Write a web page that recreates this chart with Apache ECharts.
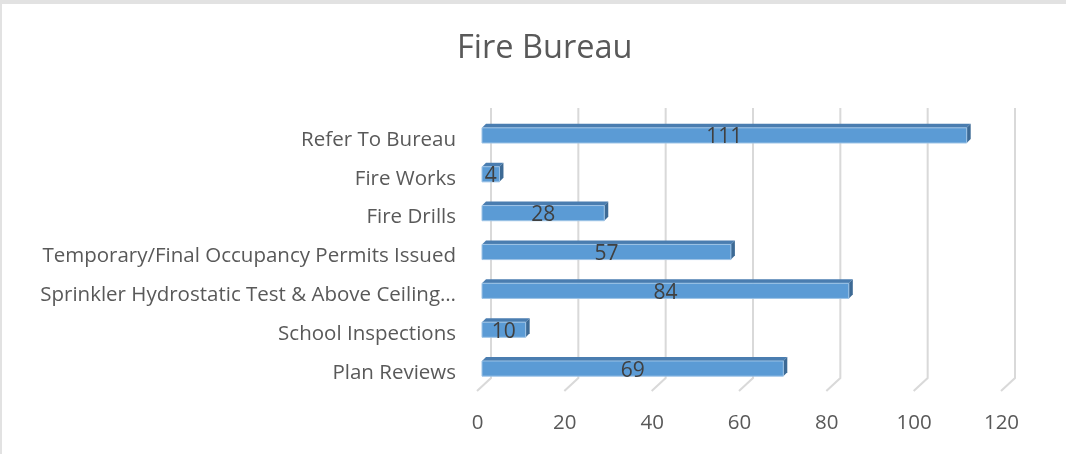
<!DOCTYPE html>
<html>
<head>
<meta charset="utf-8">
<script src="https://cdn.jsdelivr.net/npm/echarts@6/dist/echarts.min.js"></script>
<style>
  html, body { margin: 0; padding: 0; background: #fff; }
  #chart { position: absolute; left: 0; top: 0; width: 1066px; height: 454px; }
  #frame { position: absolute; left: 0; top: 0; width: 1064px; height: 450px;
    border-top: 4px solid #e2e2e2; border-left: 2px solid #e2e2e2; pointer-events: none; }
</style>
</head>
<body>
<div id="chart"></div>
<div id="frame"></div>
<script>
// data
const categories = [
  "Plan Reviews",
  "School Inspections",
  "Sprinkler Hydrostatic Test & Above Ceiling\u2026",
  "Temporary/Final Occupancy Permits Issued",
  "Fire Drills",
  "Fire Works",
  "Refer To Bureau"
];
const counts = [69, 10, 84, 57, 28, 4, 111];
const ticks = [0, 20, 40, 60, 80, 100, 120];

const fontName = '"Open Sans", "Noto Sans", sans-serif';
const textColor = "#595959";
const depth = 4;   // bar depth for the 3d look
const lift = 4.5;  // bars sit a bit above their labels (perspective)

var dom = document.getElementById('chart');
var myChart = echarts.init(dom, null, { renderer: 'canvas' });

// floor + back-wall gridlines, one per tick
function renderGrid(params, api) {
  let cs = params.coordSys;
  let x = api.coord([api.value(0), 0])[0];
  let yFront = cs.y + cs.height - 1.5;
  let yBack = yFront - 13;
  let yTop = cs.y - 12.5;
  return {
    type: 'polyline',
    shape: { points: [[x - 5, yFront], [x + 9, yBack], [x + 9, yTop]] },
    style: { stroke: '#d9d9d9', lineWidth: 2, fill: null }
  };
}

// 3d-ish horizontal bar: front face, top face, right side
function renderBar(params, api) {
  let v = api.value(0);
  let c = api.value(1);
  let p0 = api.coord([0, c]);
  let p1 = api.coord([v, c]);
  let h = api.size([0, 1])[1] * 0.39;
  let cy = p0[1] - lift;
  let x0 = p0[0], x1 = p1[0];
  let yt = cy - h / 2, yb = cy + h / 2;
  return {
    type: 'group',
    children: [
      {
        type: 'polygon',
        shape: { points: [[x0, yt], [x0 + depth, yt - depth], [x1 + depth, yt - depth], [x1, yt]] },
        style: { fill: '#4a7db0' }
      },
      {
        type: 'polygon',
        shape: { points: [[x1, yt], [x1 + depth, yt - depth], [x1 + depth, yb - depth], [x1, yb]] },
        style: { fill: '#3d6a95' }
      },
      {
        type: 'rect',
        shape: { x: x0, y: yt, width: x1 - x0, height: h },
        style: { fill: '#5b9bd5', stroke: '#9dc3e6', lineWidth: 1 }
      },
      {
        type: 'text',
        x: (x0 + x1) / 2,
        y: cy + 2,
        style: {
          text: String(v),
          align: 'center',
          verticalAlign: 'middle',
          fill: '#404040',
          font: '21px ' + fontName
        }
      }
    ]
  };
}

var option = {
  backgroundColor: '#fff',
  animation: false,
  title: {
    text: 'Fire Bureau',
    left: 452,
    top: 27,
    textStyle: { fontFamily: fontName, fontSize: 32.5, fontWeight: 'normal', color: textColor }
  },
  grid: {
    left: 482,
    right: 60,
    top: 120.5,
    bottom: 61.5
  },
  xAxis: {
    type: 'value',
    min: 0,
    max: 120,
    interval: 20,
    axisLine: { show: false },
    axisTick: { show: false },
    splitLine: { show: false },
    axisLabel: {
      margin: 20,
      padding: [0, 9, 0, 0],
      color: textColor,
      fontFamily: fontName,
      fontSize: 20.5
    }
  },
  yAxis: {
    type: 'category',
    data: categories,
    axisLine: { show: false },
    axisTick: { show: false },
    axisLabel: {
      margin: 26,
      color: textColor,
      fontFamily: fontName,
      fontSize: 20.5
    }
  },
  series: [
    {
      type: 'custom',
      name: 'grid',
      clip: false,
      silent: true,
      z: 1,
      renderItem: renderGrid,
      encode: { x: 0, y: 1 },
      data: ticks.map(t => [t, 0])
    },
    {
      type: 'custom',
      name: 'Fire Bureau',
      clip: false,
      z: 2,
      renderItem: renderBar,
      encode: { x: 0, y: 1 },
      data: counts.map((v, i) => [v, i])
    }
  ]
};

myChart.setOption(option);
window.addEventListener('resize', myChart.resize);
</script>
</body>
</html>
